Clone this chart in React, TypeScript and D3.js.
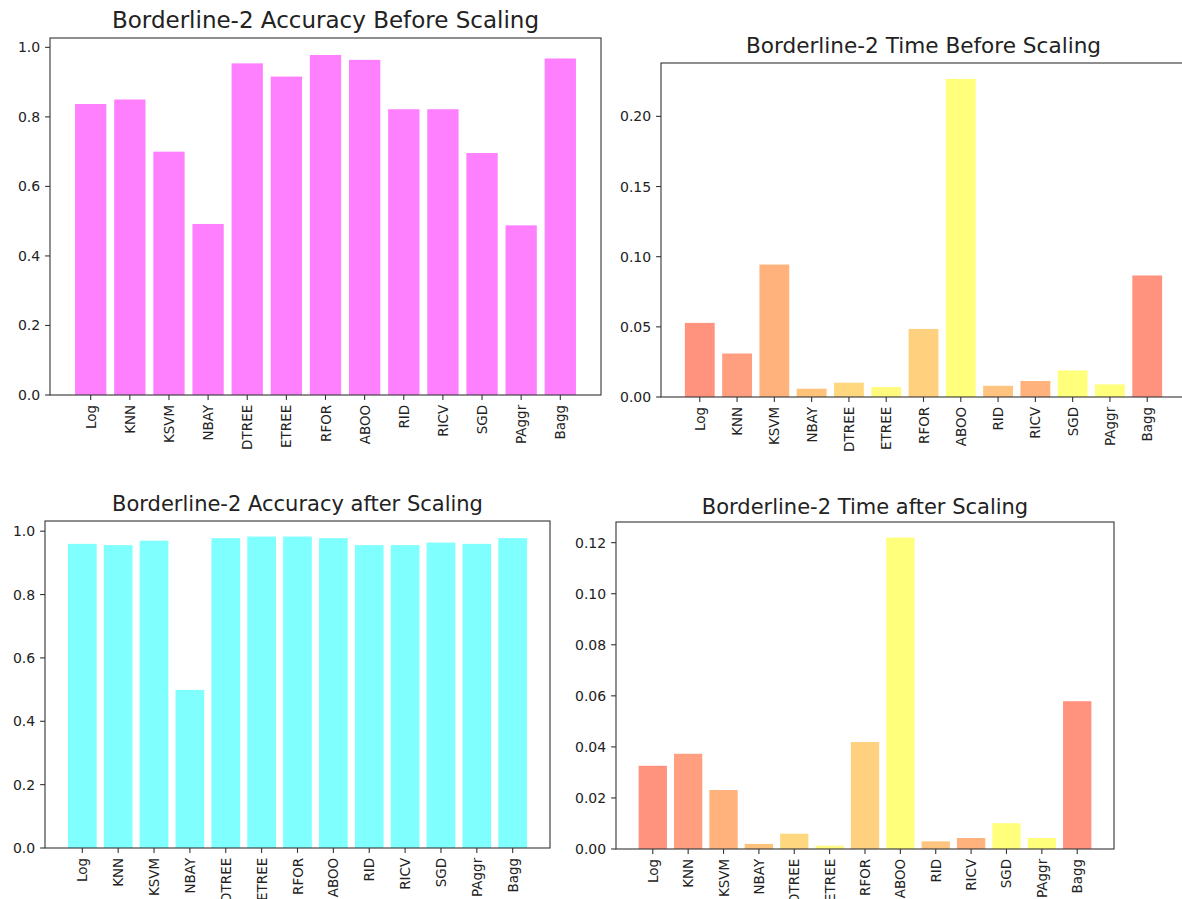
import React from "react";
import * as d3 from "d3";

const categories = ["Log", "KNN", "KSVM", "NBAY", "DTREE", "ETREE", "RFOR", "ABOO", "RID", "RICV", "SGD", "PAggr", "Bagg"];

const accBefore = [0.837, 0.850, 0.700, 0.492, 0.954, 0.916, 0.978, 0.964, 0.822, 0.822, 0.696, 0.488, 0.968];
const timeBefore = [0.0528, 0.0310, 0.0944, 0.0059, 0.0102, 0.0071, 0.0485, 0.2267, 0.0080, 0.0114, 0.0189, 0.0090, 0.0866];
const accAfter = [0.960, 0.956, 0.970, 0.499, 0.978, 0.983, 0.983, 0.978, 0.956, 0.956, 0.964, 0.960, 0.978];
const timeAfter = [0.0326, 0.0373, 0.0231, 0.0020, 0.0060, 0.0013, 0.0419, 0.1220, 0.0030, 0.0043, 0.0101, 0.0043, 0.0579];

const timeColors = ["#FF937E", "#FF9F7F", "#FFB27B", "#FFC27B", "#FFD77F", "#FFF97E", "#FFD17F", "#FFFF7C", "#FFC47F", "#FFB27B", "#FFFF7C", "#FFFF7C", "#FF937E"];

const accTicks = [0, 0.2, 0.4, 0.6, 0.8, 1.0];
const timeBeforeTicks = [0, 0.05, 0.1, 0.15, 0.2];
const timeAfterTicks = [0, 0.02, 0.04, 0.06, 0.08, 0.1, 0.12];

type PanelProps = {
  title: string;
  titleSize: number;
  titleGap: number;
  values: number[];
  colors: string[];
  ticks: number[];
  decimals: number;
  box: { left: number; right: number; top: number; bottom: number };
};

const FONT = "DejaVu Sans, Verdana, sans-serif";
const TICK_LEN = 4.9;
const PAD = 4.9;

function Panel({ title, titleSize, titleGap, values, colors, ticks, decimals, box }: PanelProps) {
  const n = values.length;
  const lo = -0.4;
  const hi = n - 1 + 0.4;
  const m = 0.05 * (hi - lo);
  const x = d3.scaleLinear().domain([lo - m, hi + m]).range([box.left, box.right]);
  const y = d3.scaleLinear().domain([0, (d3.max(values) as number) * 1.05]).range([box.bottom, box.top]);
  const bw = x(0.8) - x(0);
  const fmt = d3.format(`.${decimals}f`);
  return (
    <g>
      {values.map((v, i) => (
        <rect key={i} x={x(i - 0.4)} y={y(v)} width={bw} height={y(0) - y(v)} fill={colors[i % colors.length]} />
      ))}
      <rect x={box.left} y={box.top} width={box.right - box.left} height={box.bottom - box.top} fill="none" stroke="#333" strokeWidth={1.1} />
      {ticks.map((t) => (
        <g key={t}>
          <line x1={box.left - TICK_LEN} x2={box.left} y1={y(t)} y2={y(t)} stroke="#333" strokeWidth={1.1} />
          <text x={box.left - TICK_LEN - PAD} y={y(t)} textAnchor="end" dominantBaseline="central" fontSize={14} fontFamily={FONT} fill="#222">
            {fmt(t)}
          </text>
        </g>
      ))}
      {categories.map((c, i) => (
        <g key={c}>
          <line x1={x(i)} x2={x(i)} y1={box.bottom} y2={box.bottom + TICK_LEN} stroke="#333" strokeWidth={1.1} />
          <text
            transform={`translate(${x(i)},${box.bottom + TICK_LEN + PAD}) rotate(-90)`}
            textAnchor="end"
            dominantBaseline="central"
            fontSize={13.5}
            fontFamily={FONT}
            fill="#222"
          >
            {c}
          </text>
        </g>
      ))}
      <text x={(box.left + box.right) / 2} y={box.top - titleGap} textAnchor="middle" fontSize={titleSize} fontFamily={FONT} fill="#222">
        {title}
      </text>
    </g>
  );
}

export default function App() {
  return (
    <svg width={1182} height={899} style={{ position: "absolute", left: 0, top: 0, background: "#fff" }}>
      <rect x={0} y={0} width={1182} height={899} fill="#fff" />
      <Panel
        title="Borderline-2 Accuracy Before Scaling"
        titleSize={23}
        titleGap={10.5}
        values={accBefore}
        colors={["#FF80FF"]}
        ticks={accTicks}
        decimals={1}
        box={{ left: 50, right: 601, top: 38, bottom: 395 }}
      />
      <Panel
        title="Borderline-2 Time Before Scaling"
        titleSize={21.6}
        titleGap={10}
        values={timeBefore}
        colors={timeColors}
        ticks={timeBeforeTicks}
        decimals={2}
        box={{ left: 661, right: 1186, top: 63, bottom: 397 }}
      />
      <Panel
        title="Borderline-2 Accuracy after Scaling"
        titleSize={21}
        titleGap={10.5}
        values={accAfter}
        colors={["#80FFFF"]}
        ticks={accTicks}
        decimals={1}
        box={{ left: 45, right: 550, top: 521, bottom: 848 }}
      />
      <Panel
        title="Borderline-2 Time after Scaling"
        titleSize={21}
        titleGap={8.5}
        values={timeAfter}
        colors={timeColors}
        ticks={timeAfterTicks}
        decimals={2}
        box={{ left: 616, right: 1114, top: 522, bottom: 849 }}
      />
    </svg>
  );
}
